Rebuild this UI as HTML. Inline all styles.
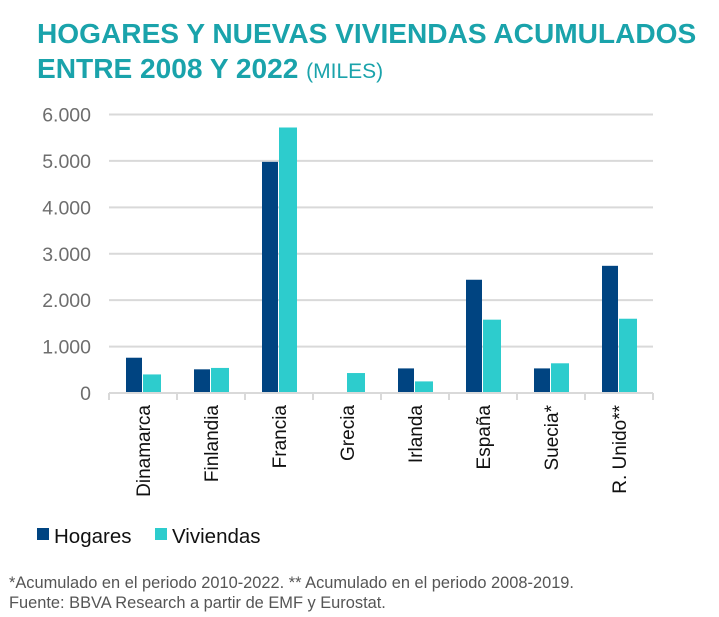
<!DOCTYPE html>
<html><head><meta charset="utf-8"><style>
body{margin:0;background:#fff;font-family:"Liberation Sans",sans-serif;}
#wrap{position:relative;width:719px;height:617px;overflow:hidden}
.title{position:absolute;left:37px;top:16px;color:#1aa3ab;font-weight:bold;font-size:28.1px;line-height:35px;white-space:nowrap}
.title span{font-weight:normal;font-size:21px}
.foot{position:absolute;left:9px;top:573px;font-size:16.4px;color:#555;line-height:20px;white-space:nowrap}
</style></head><body><div id="wrap">
<div class="title">HOGARES Y NUEVAS VIVIENDAS ACUMULADOS<br>ENTRE 2008 Y 2022 <span>(MILES)</span></div>
<svg id="c" width="719" height="617" style="position:absolute;left:0;top:0"></svg>
<div class="foot">*Acumulado en el periodo 2010-2022. ** Acumulado en el periodo 2008-2019.<br>Fuente: BBVA Research a partir de EMF y Eurostat.</div>
</div>
<script>
const categories=["Dinamarca","Finlandia","Francia","Grecia","Irlanda","España","Suecia*","R. Unido**"];
const hogares=[760,510,4980,0,530,2440,530,2740];
const viviendas=[400,540,5720,430,250,1580,640,1600];
const yTicks=[0,1000,2000,3000,4000,5000,6000];
const yTickLabels=["0","1.000","2.000","3.000","4.000","5.000","6.000"];
const NS="http://www.w3.org/2000/svg";
const svg=document.getElementById('c');
const x0=109,bw=68,y0=393,pxPer=(393-114.5)/6000;
const y=v=>y0-v*pxPer;
const xc=i=>x0+bw*i+bw/2;
function mk(t,a){const e=document.createElementNS(NS,t);for(const k in a)e.setAttribute(k,a[k]);svg.appendChild(e);return e;}
yTicks.forEach((v,i)=>{
 if(v>0){const g=mk('line',{x1:x0,x2:x0+bw*8,y1:y(v),y2:y(v),stroke:'#d9d9d9','stroke-width':2});
 
 }
 const t=mk('text',{x:91,y:y(v)+7,'text-anchor':'end','font-size':19.5,fill:'#6e6e6e','font-family':'Liberation Sans'});
 t.textContent=yTickLabels[i];
 
 
});
categories.forEach((c,i)=>{
 const c0=xc(i);
 const h=mk('rect',{x:c0-17,y:y(hogares[i]),width:16,height:hogares[i]*pxPer,fill:'#004481'});
 
 
 const v=mk('rect',{x:c0,y:y(viviendas[i]),width:18,height:viviendas[i]*pxPer,fill:'#2dcccd'});
 
 
 const t=mk('text',{transform:`translate(${c0+7},405) rotate(-90)`,'text-anchor':'end','font-size':19,fill:'#111','font-family':'Liberation Sans'});
 t.textContent=c;
 
 
});
for(let i=0;i<=8;i++){const tk=mk('line',{x1:x0+bw*i,x2:x0+bw*i,y1:y0,y2:y0+7,stroke:'#d9d9d9','stroke-width':2});
 
 }
const ax=mk('line',{x1:x0,x2:x0+bw*8,y1:y0,y2:y0,stroke:'#d9d9d9','stroke-width':2});


[["Hogares","#004481",37],["Viviendas","#2dcccd",155]].forEach(l=>{
 const r=mk('rect',{x:l[2],y:528,width:12,height:12,fill:l[1]});
 
 
 const t=mk('text',{x:l[2]+17,y:543,'font-size':20.5,fill:'#111','font-family':'Liberation Sans'});
 t.textContent=l[0];
 
 
});
</script></body></html>
